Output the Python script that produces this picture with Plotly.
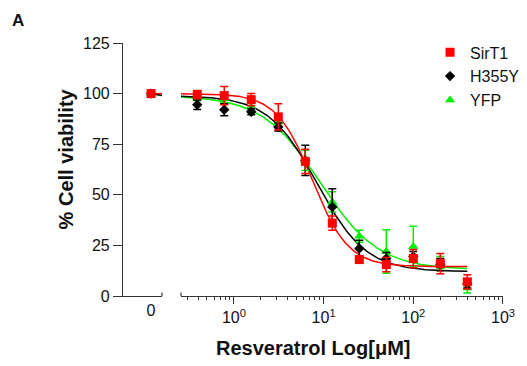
import numpy as np
import plotly.graph_objects as go

# ---- data ----
conc = [0.39, 0.78, 1.56, 3.125, 6.25, 12.5, 25, 50, 100, 200, 400]
series_names = ["SirT1", "H355Y", "YFP"]
sirt1 = [99.5, 99, 97, 88.5, 66.5, 36, 18, 15.5, 18.5, 16, 7]
sirt1_err = [2, 4.5, 3, 6.5, 6, 3.5, 1.5, 3.5, 4.5, 5, 3.5]
h355y = [94.5, 92, 91, 83.5, 67, 44, 23.5, 18.5, 19.5, 15.5, 6]
h355y_err = [2.3, 3, 1.5, 2, 7.5, 9, 4, 3, 2.5, 3, 2]
yfp = [98, 97.5, 93.5, 86, 67, 46.5, 29.5, 22, 24.5, 16.5, 4]
yfp_err = [1.5, 2, 2, 2, 5, 5, 3, 10.7, 10, 3, 2.5]
zero_value = [100, 100, 100]  # SirT1, H355Y, YFP at 0 µM
# four-parameter logistic fit parameters (top, bottom, IC50, Hill) per series
fit_top = [100, 99, 99]
fit_bottom = [14.5, 12, 13]
fit_ic50 = [7.5, 8.5, 9.2]
fit_hill = [2.17, 1.6, 1.34]
x_ticks = [1, 10, 100, 1000]
x_ticktext = ["10<sup>0</sup>", "10<sup>1</sup>", "10<sup>2</sup>", "10<sup>3</sup>"]
y_ticks = [0, 25, 50, 75, 100, 125]

colors = ["#FF0000", "#000000", "#00EE00"]
symbols = ["square", "diamond", "triangle-up"]
sizes = [9, 8, 9]
vals = [sirt1, h355y, yfp]
errs = [sirt1_err, h355y_err, yfp_err]

FONT = "Arial, Liberation Sans, sans-serif"
fig = go.Figure()

xfit = np.logspace(np.log10(0.257), np.log10(400), 200)
order = [2, 1, 0]  # draw YFP, then H355Y, then SirT1 on top
for i in order:
    yfit = fit_bottom[i] + (fit_top[i] - fit_bottom[i]) / (1 + (xfit / fit_ic50[i]) ** fit_hill[i])
    fig.add_trace(go.Scatter(x=xfit, y=yfit, mode="lines", xaxis="x2", yaxis="y",
                             line=dict(color=colors[i], width=1.5), showlegend=False,
                             hoverinfo="skip"))
for i in order:
    fig.add_trace(go.Scatter(
        x=conc, y=vals[i], mode="markers", xaxis="x2", yaxis="y", name=series_names[i],
        marker=dict(color=colors[i], symbol=symbols[i], size=sizes[i]),
        error_y=dict(type="data", array=errs[i], symmetric=True, color=colors[i],
                     thickness=1.5, width=4),
        legendrank=i + 1))
    # zero-concentration point on the broken left segment
    fig.add_trace(go.Scatter(
        x=[0, 0.28], y=[zero_value[i], fit_top[i]], mode="lines", xaxis="x", yaxis="y",
        line=dict(color=colors[i], width=1.5), showlegend=False))
    fig.add_trace(go.Scatter(
        x=[0], y=[zero_value[i]], mode="markers", xaxis="x", yaxis="y",
        marker=dict(color=colors[i], symbol=symbols[i], size=sizes[i]), showlegend=False))

axis_common = dict(showline=True, linecolor="#333333", linewidth=1.2, showgrid=False,
                   zeroline=False, tickfont=dict(family=FONT, size=16, color="#111111"),
                   ticks="outside", tickcolor="#333333", tickwidth=1.2)

fig.update_layout(
    width=527, height=366,
    margin=dict(l=123, r=24, t=43, b=70, autoexpand=False),
    paper_bgcolor="white", plot_bgcolor="white",
    xaxis=dict(domain=[0, 0.1026], range=[-0.72, 0.28], tickvals=[0], ticktext=["0"],
               ticklen=0, anchor="y", **axis_common),
    xaxis2=dict(domain=[0.1526, 1], type="log", range=[np.log10(0.257), 3], anchor="y",
                tickvals=x_ticks, ticktext=x_ticktext, ticklen=7,
                minor=dict(tickvals=[m * d for d in [0.1, 1, 10, 100] for m in range(2, 10)
                                     if 0.257 <= m * d <= 1000],
                           ticks="outside", ticklen=3, tickcolor="#333333", tickwidth=1.2),
                **axis_common),
    yaxis=dict(range=[0, 125], tickvals=y_ticks, ticklen=9, anchor="x", **axis_common),
    legend=dict(x=0.808, y=1.03, xanchor="left", yanchor="top", bgcolor="rgba(0,0,0,0)",
                font=dict(family=FONT, size=16, color="#111111"), tracegroupgap=0),
    annotations=[
        dict(text="<b>% Cell viability</b>", xref="paper", yref="paper", x=-0.15, y=0.54,
             xanchor="center", yanchor="middle", textangle=-90, showarrow=False,
             font=dict(family=FONT, size=20, color="#111111")),
        dict(text="<b>Resveratrol Log[μM]</b>", xref="paper", yref="paper", x=0.5, y=-0.205,
             xanchor="center", yanchor="middle", showarrow=False,
             font=dict(family=FONT, size=20, color="#111111")),
        dict(text="<b>A</b>", xref="paper", yref="paper", x=-0.275, y=1.087,
             xanchor="center", yanchor="middle", showarrow=False,
             font=dict(family=FONT, size=17, color="#111111")),
    ],
    # end ticks of the axis break (small crossing marks)
    shapes=[
        dict(type="line", xref="x domain", x0=1, x1=1, yref="y", ysizemode="pixel",
             yanchor=0, y0=-3.5, y1=3.5, line=dict(color="#333333", width=1.2)),
        dict(type="line", xref="x2 domain", x0=0, x1=0, yref="y", ysizemode="pixel",
             yanchor=0, y0=-3.5, y1=3.5, line=dict(color="#333333", width=1.2)),
    ],
)

fig.write_html("out.html")
